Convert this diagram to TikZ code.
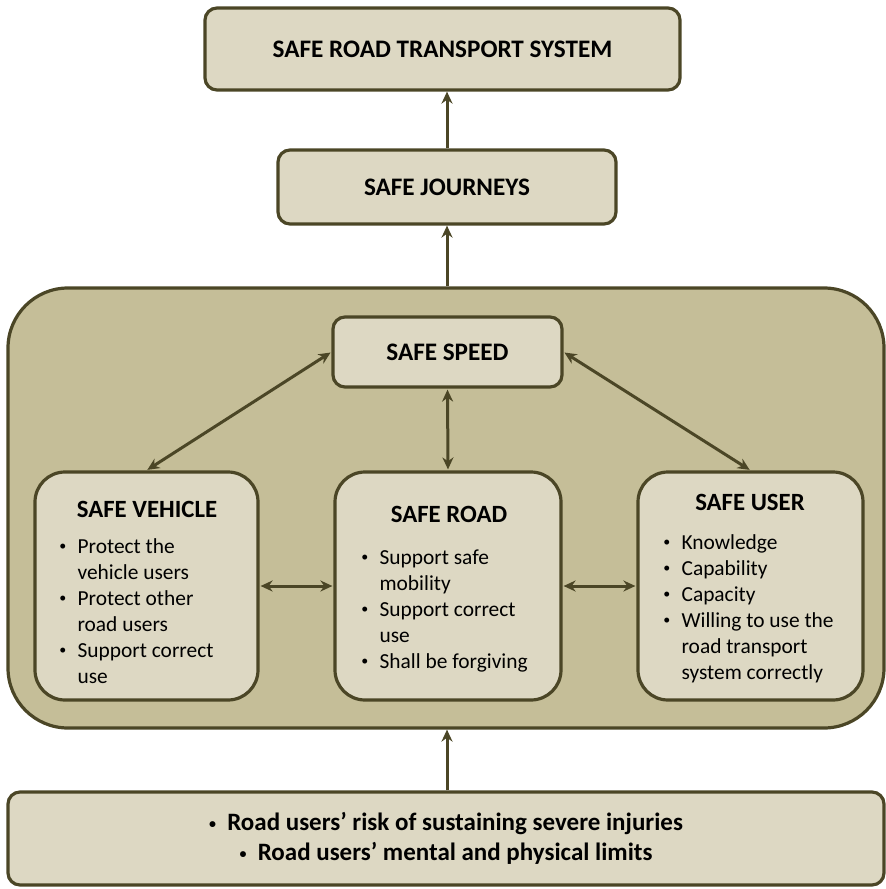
\documentclass[tikz,border=0pt]{standalone}
\usepackage{fontspec}
\setmainfont{Carlito}
\usetikzlibrary{positioning,arrows.meta}
\definecolor{boxfill}{HTML}{DDD8C3}
\definecolor{areafill}{HTML}{C5BE98}
\definecolor{edgecol}{HTML}{4B4626}
\newcommand{\dotmark}{\raisebox{0.2ex}{\fontsize{7}{7}\selectfont\textbullet}}
\newcommand{\bitem}{\makebox[0.85em][l]{\dotmark}}
\newcommand{\bcont}{\hspace*{0.85em}}

\begin{document}
\begin{tikzpicture}[x=0.5pt, y=-0.5pt, font=\fontsize{10.7}{13}\selectfont,
  box/.style={draw=edgecol, line width=1.6pt, fill=boxfill,
    rounded corners=6pt, inner sep=0pt, font=\fontsize{12.6}{13}\selectfont\bfseries},
  pillar/.style={box, rounded corners=15pt, minimum width=111.5pt, minimum height=114pt},
  head/.style={anchor=base, inner sep=0pt, font=\fontsize{12.4}{13}\selectfont\bfseries},
  bullets/.style={anchor=base west, align=left, inner sep=0pt},
  link/.style={{Stealth[length=6pt,width=5.5pt]}-{Stealth[length=6pt,width=5.5pt]},
    draw=edgecol, line width=1.5pt, shorten <=0.5pt, shorten >=0.5pt},
  up/.style={-{Stealth[length=6pt,width=5.5pt]}, draw=edgecol, line width=1.5pt}]
  \useasboundingbox (0,0) rectangle (886,889);
  % outer area round the three pillars
  \node[box, fill=areafill, rounded corners=30pt, minimum width=438pt,
    minimum height=220pt] (area) at (446,508) {};
  % top chain
  \node[box, minimum width=237.5pt, minimum height=41pt] (system) at (442.5,49)
    {SAFE ROAD TRANSPORT SYSTEM};
  \node[box, minimum width=169pt, minimum height=37pt] (journeys) at (447,187)
    {SAFE JOURNEYS};
  \node[box, minimum width=114.5pt, minimum height=35pt] (speed) at (447.5,352)
    {SAFE SPEED};
  % the three pillars
  \node[pillar] (vehicle) at (146.5,586) {};
  \node[pillar, minimum width=113pt] (road) at (448,586) {};
  \node[pillar, minimum width=112.5pt] (user) at (750.5,586) {};
  \node[head] (vehiclehead) at (147,517) {SAFE VEHICLE};
  \node[head] (roadhead) at (449,522) {SAFE ROAD};
  \node[head] (userhead) at (750,510) {SAFE USER};
  % lists, placed by the baseline of their last line
  \node[bullets] (vehiclelist) at (59,683)
    {\bitem Protect the\\ \bcont vehicle users\\ \bitem Protect other\\
     \bcont road users\\ \bitem Support correct\\ \bcont use};
  \node[bullets] (roadlist) at (361,668)
    {\bitem Support safe\\ \bcont mobility\\ \bitem Support correct\\
     \bcont use\\ \bitem Shall be forgiving};
  \node[bullets] (userlist) at (663,679)
    {\bitem Knowledge\\ \bitem Capability\\ \bitem Capacity\\
     \bitem Willing to use the\\ \bcont road transport\\ \bcont system correctly};
  % base
  \node[box, minimum width=438pt, minimum height=46.5pt, align=center,
    font=\fontsize{12.5}{15}\selectfont\bfseries] (base) at (446,838.5)
    {\dotmark\ \ Road users' risk of sustaining severe injuries\\
     \dotmark\ \ Road users' mental and physical limits};
  % connectors
  \draw[up] (journeys.north) -- (journeys.north |- system.south);
  \draw[up] (area.north -| journeys.south) -- (journeys.south);
  \draw[up] (base.north -| journeys.south) -- (area.south -| journeys.south);
  \draw[link] (speed.west) -- (vehicle.north);
  \draw[link] (speed.east) -- (user.north);
  \draw[link] (speed.south) -- (road.north);
  \draw[link] (vehicle.east) -- (road.west);
  \draw[link] (road.east) -- (user.west);
\end{tikzpicture}
\end{document}
